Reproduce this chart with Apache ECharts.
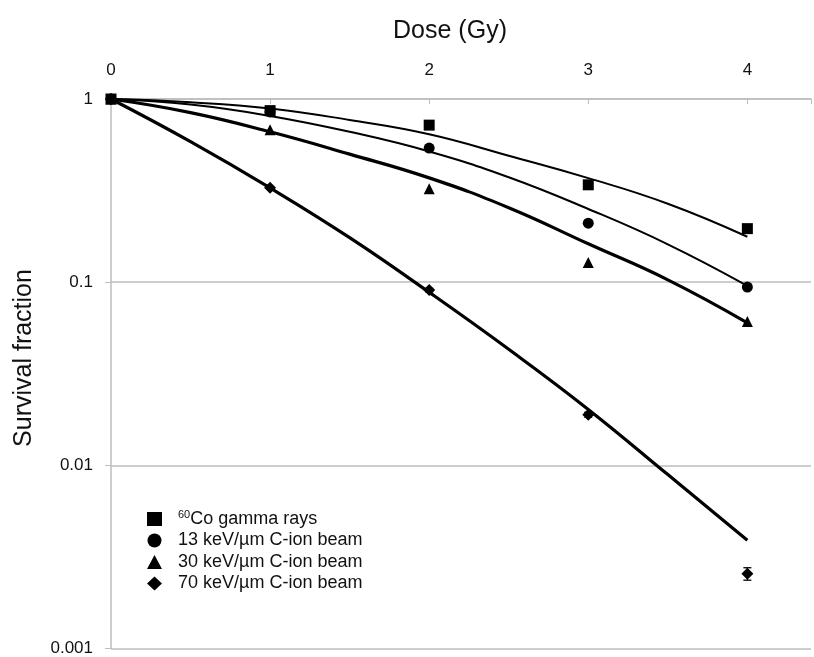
<!DOCTYPE html>
<html>
<head>
<meta charset="utf-8">
<script src="https://cdn.jsdelivr.net/npm/echarts@6/dist/echarts.min.js"></script>
<style>html,body{margin:0;padding:0;background:#fff}#c{width:814px;height:657px}</style>
</head>
<body>
<div id="c"></div>
<script>
// ---- data ----
const doses = [0, 1, 2, 3, 4];
const gammaPts = [1, 0.864, 0.72, 0.34, 0.196];
const c13Pts = [1, 0.85, 0.54, 0.21, 0.094];
const c30Pts = [1, 0.68, 0.324, 0.128, 0.061];
const c70Pts = [1, 0.328, 0.0905, 0.0189, 0.00256];
const c70Err = [0, 0, 0.002, 0.0006, 0.0002];

const fitDose = [0, 0.5, 1, 1.5, 2, 2.5, 3, 3.5, 4];
const gammaFit = [1, 0.96, 0.888, 0.768, 0.642, 0.49, 0.37, 0.268, 0.177];
const c13Fit = [1, 0.932, 0.808, 0.662, 0.517, 0.374, 0.251, 0.161, 0.0955];
const c30Fit = [1, 0.843, 0.662, 0.5, 0.371, 0.255, 0.162, 0.103, 0.06];
const c70Fit = [1, 0.585, 0.327, 0.175, 0.088, 0.043, 0.0202, 0.0089, 0.0039];

const legendNames = ['60Co gamma rays', '13 keV/\u00b5m C-ion beam', '30 keV/\u00b5m C-ion beam', '70 keV/\u00b5m C-ion beam'];
const xTicks = [0, 1, 2, 3, 4];
const yTicks = [1, 0.1, 0.01, 0.001];
const xName = 'Dose (Gy)';
const yName = 'Survival fraction';

const FONT = 'Liberation Sans, Arial, sans-serif';
const TXT = '#111';
const pair = (xs, ys) => xs.map((x, i) => [x, ys[i]]);

const chart = echarts.init(document.getElementById('c'));

function fitSeries(name, ys, w) {
  return {
    name: name, type: 'line', data: pair(fitDose, ys), smooth: 0.45,
    showSymbol: false, symbol: 'none', silent: true,
    lineStyle: { color: '#000', width: w }, z: 2
  };
}
function ptSeries(name, ys, symbol, size) {
  return {
    name: name, type: 'scatter', data: pair(doses, ys), symbol: symbol, symbolSize: size,
    itemStyle: { color: '#000', opacity: 1 }, z: 3
  };
}

const errData = doses.map((d, i) => [d, c70Pts[i] - c70Err[i], c70Pts[i] + c70Err[i]]).filter((r, i) => c70Err[i] > 0);

chart.setOption({
  animation: false,
  textStyle: { fontFamily: FONT },
  grid: { left: 111, top: 99, right: 3, bottom: 6, containLabel: false },
  graphic: [
    { type: 'text', x: 450, y: 31, style: { text: xName, align: 'center', verticalAlign: 'middle', font: '25px ' + FONT, fill: TXT } },
    { type: 'text', rotation: Math.PI / 2, x: 24, y: 358, style: { text: yName, align: 'center', verticalAlign: 'middle', font: '25px ' + FONT, fill: TXT } }
  ],
  legend: {
    data: legendNames.map((n, i) => ({ name: n, icon: ['rect', 'circle', 'triangle', 'diamond'][i], itemStyle: { color: '#000', opacity: 1 } })),
    orient: 'vertical', left: 142, top: 504, itemGap: 3.5, itemWidth: 15, itemHeight: 14,
    textStyle: {
      fontFamily: FONT, fontSize: 18, color: TXT,
      rich: {
        sup: { fontSize: 11, verticalAlign: 'top', padding: [0, 0, 9, 11], fontFamily: FONT, color: TXT },
        c: { fontSize: 18, fontFamily: FONT, color: TXT },
        n: { fontSize: 18, fontFamily: FONT, color: TXT, padding: [0, 0, 0, 11] }
      }
    },
    formatter: function (n) {
      if (n.indexOf('60Co') === 0) return '{sup|60}{c|Co gamma rays}';
      return '{n|' + n + '}';
    },
    selectedMode: false
  },
  xAxis: {
    type: 'value', position: 'top', min: 0, max: 4.4, interval: 1,
    axisLine: { show: true, lineStyle: { color: '#bdbdbd', width: 1.5 } },
    axisTick: { show: true, inside: true, length: 5, lineStyle: { color: '#bdbdbd' } },
    axisLabel: {
      fontSize: 17, color: TXT, margin: 20, fontFamily: FONT,
      formatter: v => (xTicks.indexOf(v) >= 0 ? String(v) : '')
    },
    splitLine: { show: false }
  },
  yAxis: {
    type: 'log', logBase: 10, min: 0.001, max: 1,
    axisLine: { show: true, lineStyle: { color: '#bdbdbd', width: 1.5 } },
    axisTick: { show: true, inside: false, length: 6, lineStyle: { color: '#bdbdbd' } },
    axisLabel: {
      fontSize: 17, color: TXT, margin: 18, fontFamily: FONT,
      formatter: v => { const t = yTicks.find(y => Math.abs(Math.log10(y) - Math.log10(v)) < 1e-6); return t === undefined ? '' : String(t); }
    },
    splitLine: { show: true, lineStyle: { color: '#bdbdbd', width: 1.5 } }
  },
  series: [
    fitSeries('fit60', gammaFit, 2),
    fitSeries('fit13', c13Fit, 2),
    fitSeries('fit30', c30Fit, 3.2),
    fitSeries('fit70', c70Fit, 3.2),
    {
      name: 'err70', type: 'custom', data: errData, z: 2, silent: true,
      renderItem: function (params, api) {
        const x = api.value(0);
        const a = api.coord([x, api.value(1)]);
        const b = api.coord([x, api.value(2)]);
        const st = { stroke: '#000', lineWidth: 1.3 };
        return {
          type: 'group', children: [
            { type: 'line', shape: { x1: a[0], y1: a[1], x2: b[0], y2: b[1] }, style: st },
            { type: 'line', shape: { x1: a[0] - 4, y1: a[1], x2: a[0] + 4, y2: a[1] }, style: st },
            { type: 'line', shape: { x1: b[0] - 4, y1: b[1], x2: b[0] + 4, y2: b[1] }, style: st }
          ]
        };
      }
    },
    ptSeries(legendNames[3], c70Pts, 'diamond', 12),
    ptSeries(legendNames[2], c30Pts, 'triangle', 11),
    ptSeries(legendNames[1], c13Pts, 'circle', 11),
    ptSeries(legendNames[0], gammaPts, 'rect', 11)
  ]
});
</script>
</body>
</html>
